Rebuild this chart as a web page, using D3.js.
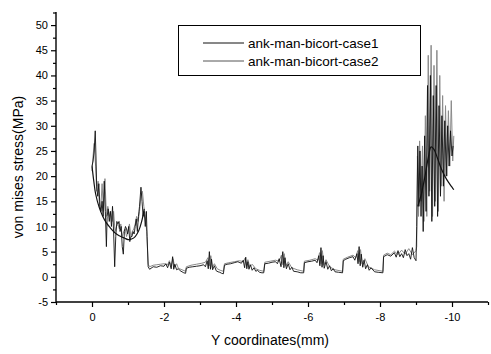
<!DOCTYPE html>
<html>
<head>
<meta charset="utf-8">
<script src="https://cdn.jsdelivr.net/npm/d3@7"></script>
<style>
  body { margin: 0; background: #fff; }
  svg { display: block; font-family: "Liberation Sans", Arial, sans-serif; }
</style>
</head>
<body>
<svg id="chart" width="491" height="354"></svg>
<script>
// data: [y coordinate (mm), von mises stress (MPa)]
const case1 = [
  [0.0,22],[-0.03,23],[-0.06,25],[-0.09,29],[-0.11,24],[-0.13,18],[-0.16,16],[-0.19,18.5],[-0.22,14],[-0.25,13],
  [-0.28,15],[-0.31,12],[-0.34,19],[-0.37,13],[-0.40,6],[-0.42,12],[-0.45,13.5],[-0.48,11],[-0.51,13],[-0.54,10],
  [-0.57,14],[-0.60,9],[-0.63,2],[-0.66,8],[-0.69,11],[-0.72,10.5],[-0.75,11],[-0.78,9],[-0.81,10],[-0.84,6],
  [-0.87,4.5],[-0.90,9],[-0.93,10],[-0.96,9.5],[-0.99,8.5],[-1.02,10],[-1.05,7],[-1.08,8],[-1.11,8],[-1.14,9],
  [-1.17,8.5],[-1.20,10],[-1.23,11.5],[-1.26,9],[-1.29,12],[-1.32,14],[-1.36,17.8],[-1.39,15],[-1.42,12],[-1.45,13],
  [-1.48,10],[-1.51,13],[-1.53,8],[-1.56,2],[-1.6,1.5],
  [-1.7,2],[-1.8,1.9],[-1.9,2.2],[-2.0,2.1],[-2.05,2.6],[-2.1,1.8],[-2.15,2.9],[-2.2,1.6],[-2.24,4],[-2.27,1.5],
  [-2.3,2.5],[-2.35,1.4],[-2.4,1.6],[-2.45,1.2],[-2.5,1.0],[-2.55,0.8],[-2.6,0.7],
  [-2.62,1.7],[-2.7,1.9],[-2.8,2.0],[-2.9,2.1],[-3.0,2.2],[-3.1,2.4],[-3.15,2.0],[-3.2,3.2],[-3.23,1.6],[-3.26,5],
  [-3.29,1.5],[-3.32,3.5],[-3.35,1.4],[-3.4,2.2],[-3.45,1.2],[-3.5,1.0],[-3.55,0.9],[-3.6,0.7],[-3.65,0.6],
  [-3.68,2.3],[-3.75,2.5],[-3.85,2.6],[-3.95,2.8],[-4.05,3.0],[-4.15,2.7],[-4.2,3.3],[-4.24,1.8],[-4.27,3.9],[-4.3,1.6],
  [-4.33,3],[-4.36,1.5],[-4.4,2.4],[-4.45,1.3],[-4.5,1.8],[-4.55,1.1],[-4.6,1.3],[-4.65,0.9],[-4.72,0.8],[-4.77,0.8],
  [-4.8,2.6],[-4.9,2.7],[-5.0,2.9],[-5.1,3.0],[-5.15,2.6],[-5.2,3.6],[-5.25,2.0],[-5.3,5],[-5.33,1.8],[-5.36,3.8],
  [-5.4,1.6],[-5.45,2.6],[-5.5,1.4],[-5.55,1.9],[-5.6,1.1],[-5.7,1.0],[-5.8,0.8],[-5.88,0.8],
  [-5.9,2.8],[-6.0,3.0],[-6.1,3.1],[-6.2,3.3],[-6.25,2.8],[-6.3,4.2],[-6.33,2.2],[-6.36,5.8],[-6.39,1.9],[-6.42,4.2],
  [-6.45,1.7],[-6.5,3],[-6.55,1.5],[-6.6,2.2],[-6.65,1.2],[-6.7,1.6],[-6.75,1.0],[-6.85,0.9],[-6.96,0.8],
  [-6.98,3.2],[-7.05,3.5],[-7.15,3.8],[-7.25,4.0],[-7.3,3.3],[-7.36,4.6],[-7.39,2.6],[-7.42,6],[-7.45,2.2],[-7.48,4.5],
  [-7.52,1.9],[-7.56,3.3],[-7.6,1.6],[-7.65,2.4],[-7.7,1.3],[-7.75,1.8],[-7.85,1.0],[-7.95,0.9],[-8.08,0.8],
  [-8.1,4.0],[-8.2,4.4],[-8.3,4.1],[-8.4,4.8],[-8.45,3.9],[-8.5,5.2],[-8.55,4.0],[-8.6,4.6],[-8.65,3.8],[-8.7,5.4],
  [-8.75,4.2],[-8.8,4.6],[-8.85,3.5],[-8.9,5.8],[-8.95,3.8],[-9.0,3.2],
  [-9.02,10],[-9.05,26],[-9.08,14],[-9.11,25],[-9.14,12],[-9.17,22],[-9.2,9],[-9.24,28],[-9.28,13],[-9.32,38],
  [-9.36,16],[-9.4,40],[-9.44,11],[-9.48,36],[-9.52,14],[-9.56,38],[-9.6,12],[-9.64,34],[-9.68,16],[-9.72,32],
  [-9.76,18],[-9.8,31],[-9.84,20],[-9.88,30],[-9.92,22],[-9.96,29],[-10.0,24],[-10.03,26]
];

const case2 = [
  [0.0,21],[-0.03,24],[-0.06,26.5],[-0.1,22],[-0.13,17],[-0.17,19],[-0.2,15],[-0.24,13],[-0.28,18.5],[-0.32,13],
  [-0.36,19.5],[-0.4,12],[-0.44,14],[-0.48,12],[-0.52,13],[-0.56,11],[-0.6,13],[-0.64,9],[-0.68,10],[-0.72,10.5],
  [-0.76,9.5],[-0.8,10.5],[-0.84,8],[-0.88,9],[-0.92,9.5],[-0.96,8],[-1.0,9],[-1.04,10.5],[-1.08,8],[-1.12,9],
  [-1.16,9.5],[-1.2,10.5],[-1.24,12],[-1.28,11],[-1.32,13],[-1.36,16],[-1.4,17],[-1.44,14],[-1.48,12],[-1.52,9],
  [-1.56,2.5],[-1.6,2],
  [-1.7,2.3],[-1.8,2.4],[-1.9,2.5],[-2.0,2.6],[-2.1,2.4],[-2.15,3.2],[-2.2,2.2],[-2.25,3.6],[-2.3,1.9],[-2.35,2.6],
  [-2.4,1.7],[-2.5,1.4],[-2.6,1.1],
  [-2.62,2.0],[-2.75,2.3],[-2.9,2.5],[-3.05,2.7],[-3.15,2.9],[-3.22,3.8],[-3.26,2.2],[-3.3,4.2],[-3.34,1.9],[-3.4,2.6],
  [-3.48,1.6],[-3.56,1.3],[-3.65,1.1],
  [-3.68,2.6],[-3.8,2.8],[-3.95,3.0],[-4.1,3.2],[-4.2,3.0],[-4.25,3.7],[-4.29,2.3],[-4.33,3.4],[-4.38,2.0],[-4.45,2.5],
  [-4.55,1.6],[-4.65,1.3],[-4.77,1.1],
  [-4.8,2.9],[-4.95,3.1],[-5.1,3.3],[-5.2,3.1],[-5.26,4.3],[-5.3,2.4],[-5.34,4.6],[-5.38,2.1],[-5.45,3.0],[-5.55,1.8],
  [-5.7,1.4],[-5.88,1.1],
  [-5.9,3.1],[-6.05,3.3],[-6.2,3.6],[-6.28,3.3],[-6.32,4.8],[-6.36,2.6],[-6.4,5.2],[-6.44,2.3],[-6.5,3.4],[-6.6,2.0],
  [-6.75,1.4],[-6.96,1.1],
  [-6.98,3.5],[-7.1,3.9],[-7.25,4.3],[-7.33,3.8],[-7.38,5.2],[-7.42,3.0],[-7.46,5.4],[-7.5,2.6],[-7.58,3.6],[-7.68,2.0],
  [-7.85,1.4],[-8.08,1.1],
  [-8.1,4.3],[-8.2,4.7],[-8.3,4.4],[-8.4,5.1],[-8.5,4.4],[-8.6,5.3],[-8.7,4.5],[-8.8,5.6],[-8.9,4.4],[-9.0,5.2],
  [-9.02,6],[-9.04,24],[-9.07,12],[-9.1,27],[-9.14,15],[-9.18,26],[-9.22,11],[-9.26,32],[-9.3,12],[-9.34,44],
  [-9.38,17],[-9.42,46],[-9.46,12],[-9.5,42],[-9.54,15],[-9.58,45],[-9.62,13],[-9.66,40],[-9.7,18],[-9.74,36],
  [-9.78,15],[-9.82,34],[-9.86,20],[-9.9,33],[-9.94,22],[-9.98,35],[-10.02,23],[-10.05,28]
];

// smooth curves seen in the end regions
const fitLeft = [
  [0.0,22],[-0.05,19],[-0.1,16.5],[-0.2,13.8],[-0.3,12],[-0.4,10.7],[-0.5,9.8],[-0.6,9.0],[-0.7,8.4],
  [-0.8,8.0],[-0.9,7.7],[-1.0,7.4],[-1.1,7.5],[-1.2,8.0],[-1.3,9.2],[-1.38,11],[-1.45,13.5]
];
const fitRight = [
  [-9.05,14],[-9.15,16.5],[-9.25,20],[-9.35,24],[-9.42,25.8],[-9.5,25.3],[-9.6,23.5],[-9.7,21.5],
  [-9.8,20],[-9.9,18.8],[-10.0,17.8],[-10.05,17.3]
];

const xMajor = [0, -2, -4, -6, -8, -10];
const xMinor = [1, -1, -3, -5, -7, -9, -11];
const yMajor = [-5, 0, 5, 10, 15, 20, 25, 30, 35, 40, 45, 50];
const seriesNames = ['ank-man-bicort-case1', 'ank-man-bicort-case2'];

const svg = d3.select('#chart');

const x = d3.scaleLinear().domain([1, -11]).range([56, 488]);
const y = d3.scaleLinear().domain([-5, 52.6]).range([302, 12]);

const line = d3.line().x(d => x(d[0])).y(d => y(d[1]));

// series
svg.append('path').datum(case2)
  .attr('d', line).attr('fill', 'none')
  .attr('stroke', '#8a8a8a').attr('stroke-width', 1);

svg.append('path').datum(case1)
  .attr('d', line).attr('fill', 'none')
  .attr('stroke', '#111').attr('stroke-width', 0.9);

[fitLeft, fitRight].forEach(f => {
  svg.append('path').datum(f)
    .attr('d', line.curve(d3.curveCatmullRom)).attr('fill', 'none')
    .attr('stroke', '#111').attr('stroke-width', 1.2);
  line.curve(d3.curveLinear);
});

// axes
const fmt = d => String(d);

const xAxis = svg.append('g').attr('transform', 'translate(0,302)')
  .call(d3.axisBottom(x).tickValues(xMajor).tickSize(5).tickPadding(6).tickFormat(fmt));
svg.append('g').attr('transform', 'translate(0,302)')
  .call(d3.axisBottom(x).tickValues(xMinor).tickSize(3).tickFormat(''))
  .select('.domain').remove();

const yAxis = svg.append('g').attr('transform', 'translate(56,0)')
  .call(d3.axisLeft(y).tickValues(yMajor).tickSize(5).tickPadding(3).tickFormat(fmt));
svg.append('g').attr('transform', 'translate(56,0)')
  .call(d3.axisLeft(y).tickValues(yMajor.map(v => v + 2.5)).tickSize(3).tickFormat(''))
  .select('.domain').remove();

svg.selectAll('.domain').attr('stroke', '#000').attr('stroke-width', 1.4)
  .attr('d', function() { return d3.select(this).attr('d').replace(/M[^H V]*?V?/, m => m); });
svg.selectAll('.tick line').attr('stroke', '#000').attr('stroke-width', 1.2);
svg.selectAll('.tick text').attr('fill', '#000').style('font-size', '11px')
  .style('font-family', '"Liberation Sans", Arial, sans-serif');

// remove the outer end ticks d3 draws on the domain path
xAxis.select('.domain').attr('d', `M${x(1)},0H${x(-11)}`);
yAxis.select('.domain').attr('d', `M0,${y(-5)}V${y(52.6)}`);

// axis titles
svg.append('text')
  .attr('x', 270).attr('y', 345)
  .attr('text-anchor', 'middle')
  .style('font-size', '14px')
  .text('Y coordinates(mm)');

svg.append('text')
  .attr('transform', 'translate(23,167) rotate(-90)')
  .attr('text-anchor', 'middle')
  .style('font-size', '14px')
  .text('von mises stress(MPa)');

// legend
const legend = svg.append('g');
legend.append('rect')
  .attr('x', 178.5).attr('y', 25.5).attr('width', 242).attr('height', 50)
  .attr('fill', '#fff').attr('stroke', '#000').attr('stroke-width', 1);

const legendColors = ['#111', '#555'];
seriesNames.forEach((name, i) => {
  const ly = 43 + i * 18;
  legend.append('line')
    .attr('x1', 203).attr('x2', 244).attr('y1', ly).attr('y2', ly)
    .attr('stroke', legendColors[i]).attr('stroke-width', 1);
  legend.append('text')
    .attr('x', 248).attr('y', ly + 5)
    .style('font-size', '13.5px')
    .text(name);
});
</script>
</body>
</html>
